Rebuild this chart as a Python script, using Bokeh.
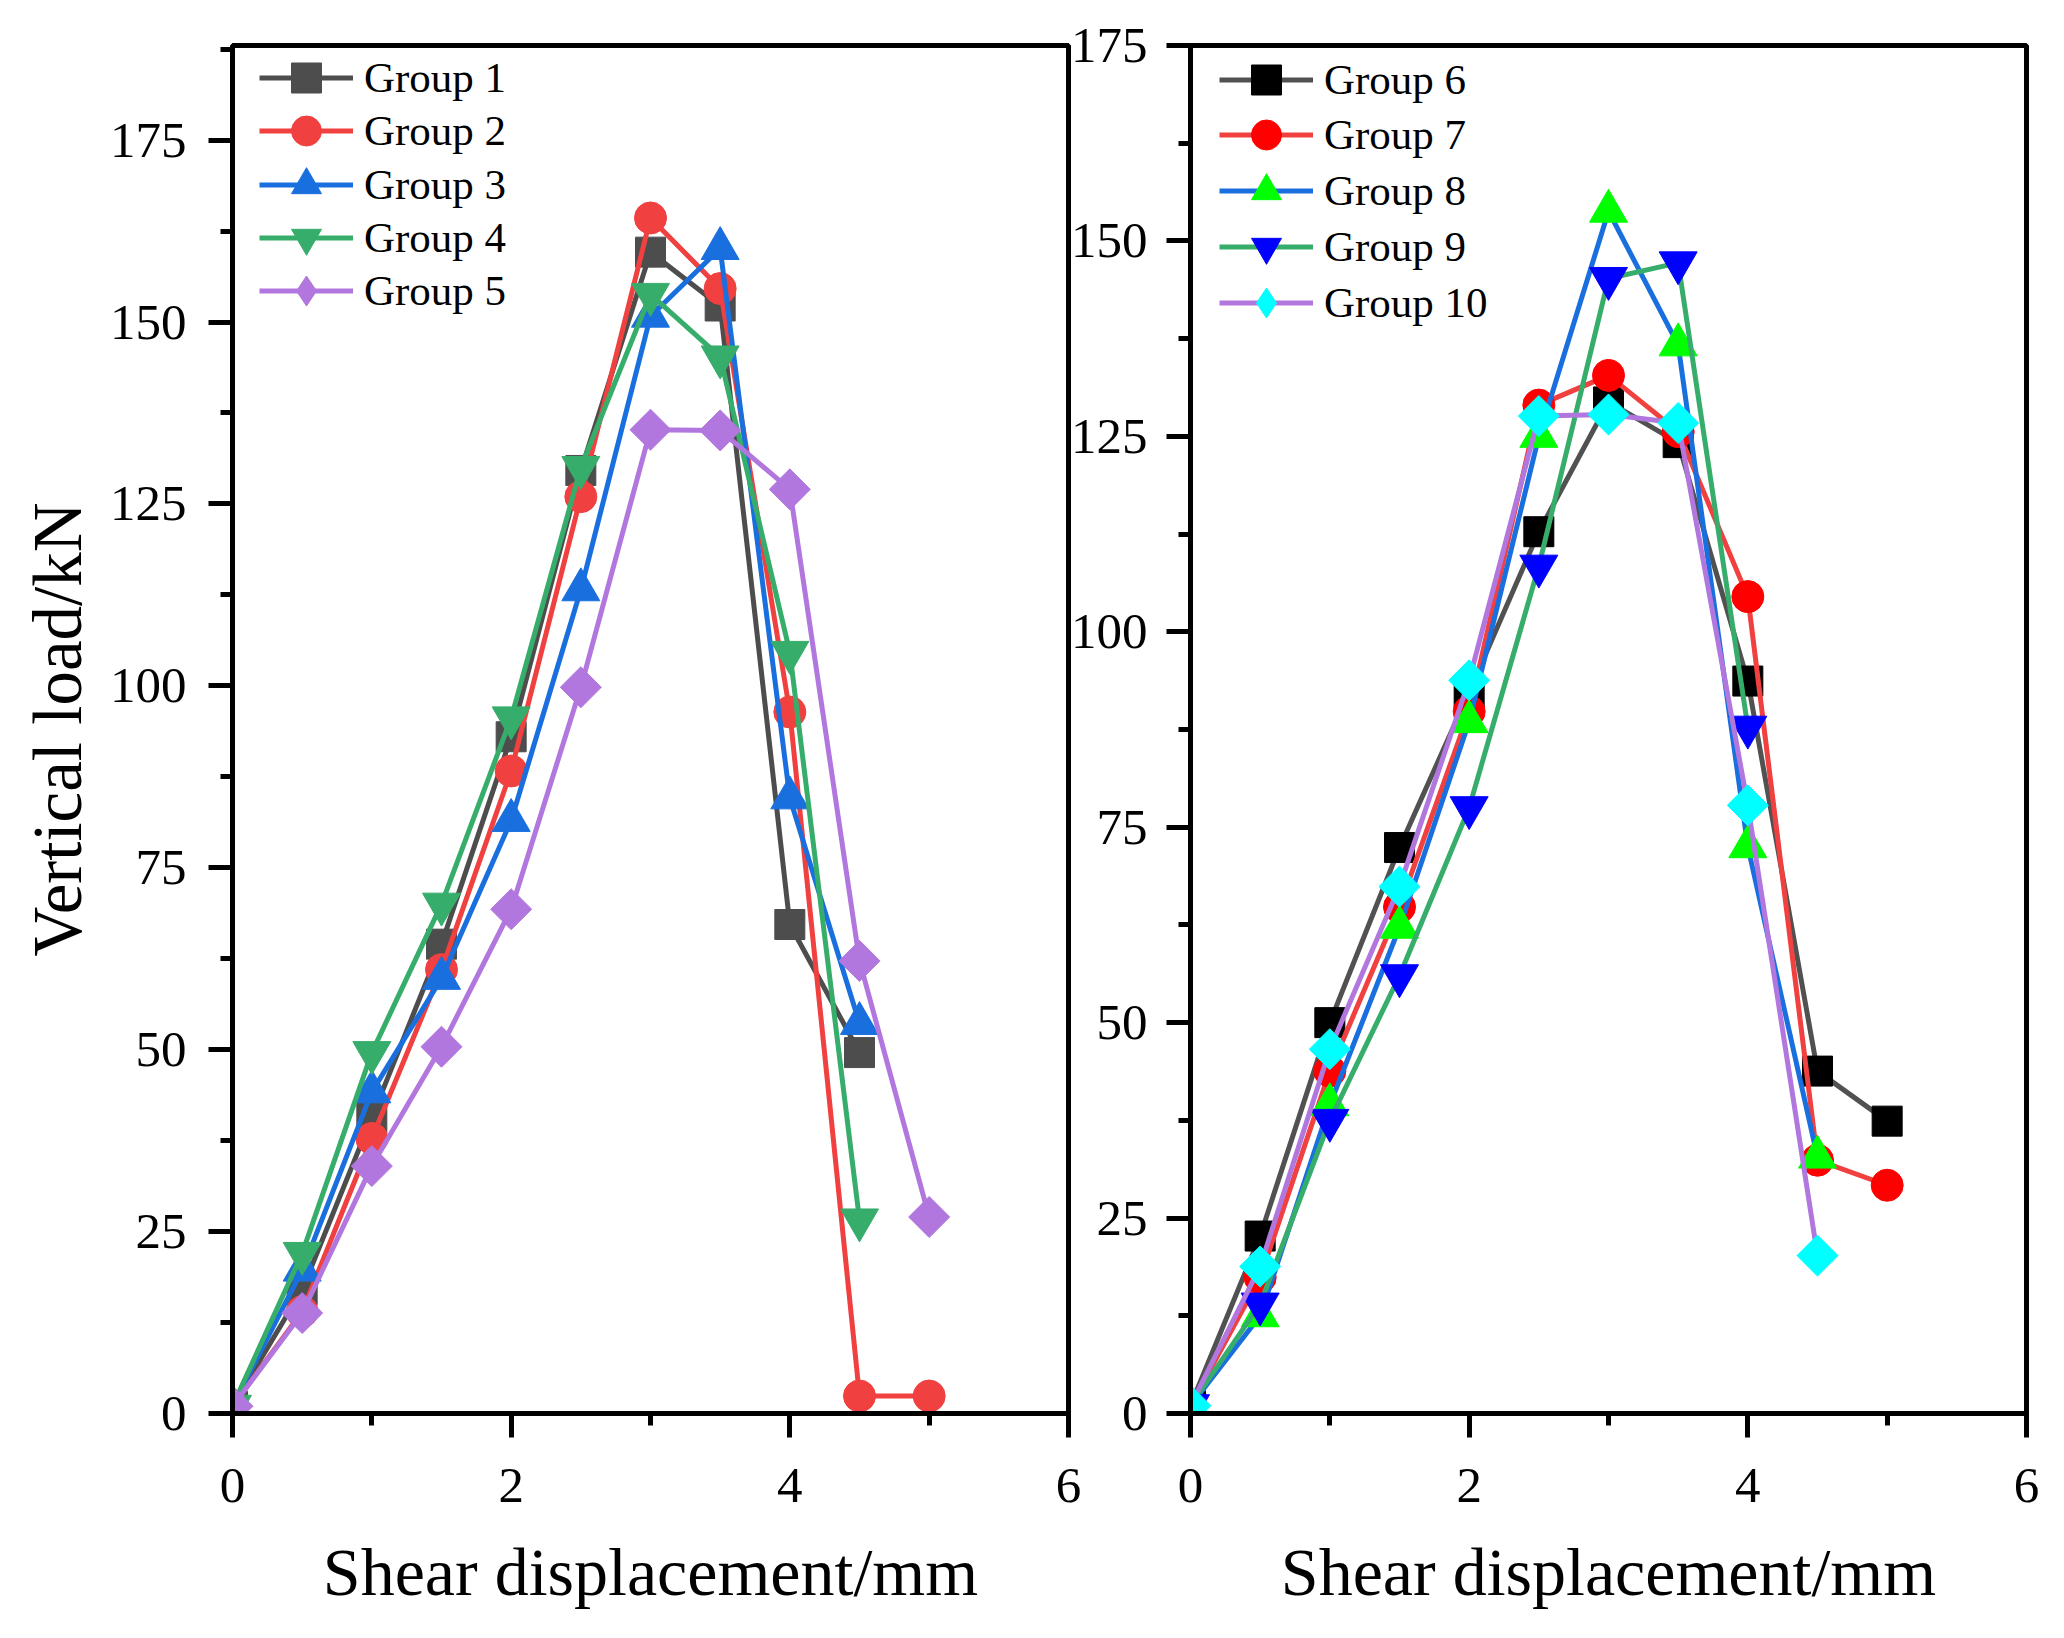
import numpy as np
from bokeh.embed import file_html
from bokeh.layouts import row
from bokeh.models import FixedTicker, Legend, LegendItem, Range1d
from bokeh.plotting import figure
from bokeh.resources import INLINE

# Shear displacement (mm)
disp = [0, 0.5, 1.0, 1.5, 2.0, 2.5, 3.0, 3.5, 4.0, 4.5, 5.0]

# Left panel, vertical load (kN)
group1 = [1, 17, 40.7, 64.5, 93, 129.6, 159.6, 152.2, 67.2, 49.6]
group2 = [1, 14, 37.8, 61, 88.3, 126, 164.3, 154.6, 96.4, 2.4, 2.4]
group3 = [1, 19.7, 44.2, 59.8, 81.5, 113.2, 150.8, 160.1, 84.6, 53.6]
group4 = [1, 22, 49.6, 70, 95.6, 130, 153.8, 145.2, 104.6, 26.6]
group5 = [1, 13.8, 34, 50.4, 69.3, 99.8, 135.2, 135.1, 127, 62.2, 27]

# Right panel, vertical load (kN)
group6 = [1, 22.7, 50, 72.4, 92.3, 112.8, 129.4, 124.2, 93.7, 43.8, 37.4]
group7 = [1, 17.4, 43.8, 64.8, 89.8, 129, 132.8, 125.6, 104.5, 32.4, 29.2]
group8 = [1, 12.5, 39.5, 62.2, 88.5, 125, 153.8, 136.7, 72.5, 32.8]
group9 = [1, 14, 37.5, 56, 77.5, 108.4, 145.2, 147.2, 87.8]
group10 = [1, 18.8, 46.6, 67.4, 93.8, 127.6, 127.8, 126.7, 77.8, 20.2]

x_ticks = [0, 2, 4, 6]
x_minor = [1, 3, 5]
y_ticks = [0, 25, 50, 75, 100, 125, 150, 175]
y_minor = [12.5, 37.5, 62.5, 87.5, 112.5, 137.5, 162.5, 187.5]

FONT = "Liberation Serif"
FRAME_W, FRAME_H = 836, 1368

# label, values, line colour, marker, marker colour, size, angle
left_series = [
    ("Group 1", group1, "#4d4d4d", "square", "#4d4d4d", 30, 0),
    ("Group 2", group2, "#f04040", "circle", "#f04040", 32, 0),
    ("Group 3", group3, "#1a6fdf", "triangle", "#1a6fdf", 38, 0),
    ("Group 4", group4, "#37ad6b", "inverted_triangle", "#37ad6b", 38, 0),
    ("Group 5", group5, "#b177de", "square", "#b177de", 29, np.pi / 4),
]
right_series = [
    ("Group 6", group6, "#515151", "square", "#000000", 30, 0),
    ("Group 7", group7, "#f14040", "circle", "#ff0000", 32, 0),
    ("Group 8", group8, "#1a6fdf", "triangle", "#00ff00", 38, 0),
    ("Group 9", group9, "#37ad6b", "inverted_triangle", "#0000ff", 38, 0),
    ("Group 10", group10, "#b177de", "square", "#00ffff", 29, np.pi / 4),
]


def make_panel(series, y_end, border_left, border_right, tick_standoff,
               legend_x, legend_top, legend_step, show_ylabel, **kw):
    p = figure(
        frame_width=FRAME_W,
        frame_height=FRAME_H,
        x_range=Range1d(0, 6),
        y_range=Range1d(0, y_end),
        min_border_left=border_left,
        min_border_right=border_right,
        min_border_top=45,
        min_border_bottom=170,
        output_backend="svg",
        toolbar_location=None,
        background_fill_color="white",
        **kw,
    )
    p.grid.visible = False
    p.outline_line_color = "black"
    p.outline_line_width = 5

    p.xaxis.ticker = FixedTicker(ticks=x_ticks, minor_ticks=x_minor)
    p.yaxis.ticker = FixedTicker(ticks=y_ticks, minor_ticks=y_minor)
    for ax in (p.xaxis, p.yaxis):
        ax.axis_line_width = 5
        ax.major_tick_line_width = 5
        ax.minor_tick_line_width = 5
        ax.major_tick_out = 24
        ax.major_tick_in = 0
        ax.minor_tick_out = 12
        ax.minor_tick_in = 0
        ax.major_label_text_font = FONT
        ax.major_label_text_font_size = "51px"
        ax.major_label_text_color = "black"
        ax.axis_label_text_font = FONT
        ax.axis_label_text_font_style = "normal"
        ax.axis_label_text_color = "black"
    p.xaxis.axis_label_text_font_size = "68px"
    p.yaxis.axis_label_text_font_size = "69px"
    p.xaxis.major_label_standoff = 31
    p.yaxis.major_label_standoff = tick_standoff
    p.xaxis.axis_label = "Shear displacement/mm"
    p.xaxis.axis_label_standoff = 29
    if show_ylabel:
        p.yaxis.axis_label = "Vertical load/kN"
        p.yaxis.axis_label_standoff = 11

    # one single-entry legend per series so the rows can sit closer
    # together than the (large) legend glyph box
    glyph_h = 75
    for i, (label, vals, lcol, marker, mcol, size, angle) in enumerate(series):
        xs = disp[: len(vals)]
        ln = p.line(xs, vals, line_color=lcol, line_width=5)
        mk = p.scatter(xs, vals, marker=marker, size=size, angle=angle,
                       fill_color=mcol, line_color=mcol, line_width=1)
        if angle:
            # legend markers ignore the angle, so use a hidden diamond there
            mk = p.scatter(xs, vals, marker="diamond", size=size,
                           fill_color=mcol, line_color=mcol, visible=False)
        centre = legend_top + i * legend_step
        legend = Legend(
            items=[LegendItem(label=label, renderers=[ln, mk])],
            location=(legend_x, FRAME_H - centre - glyph_h / 2),
            glyph_width=94,
            glyph_height=glyph_h,
            label_height=50,
            label_standoff=11,
            padding=0,
            margin=0,
            border_line_color=None,
            background_fill_alpha=0,
            label_text_font=FONT,
            label_text_font_size="43px",
            label_text_color="black",
        )
        p.add_layout(legend)
    return p


left = make_panel(left_series, 188, 232, 40, 22, 27, 32.5, 53.3, True,
                  border_fill_color="white")
# the right panel slides under the left one so that its tick labels
# can sit right against the left frame, as in the original figure
right = make_panel(right_series, 175, 120, 20, 19, 29, 34, 55.8, False,
                   border_fill_alpha=0, margin=(0, 0, 0, -41))

layout = row(left, right)
open("out.html", "w").write(file_html(layout, INLINE))
